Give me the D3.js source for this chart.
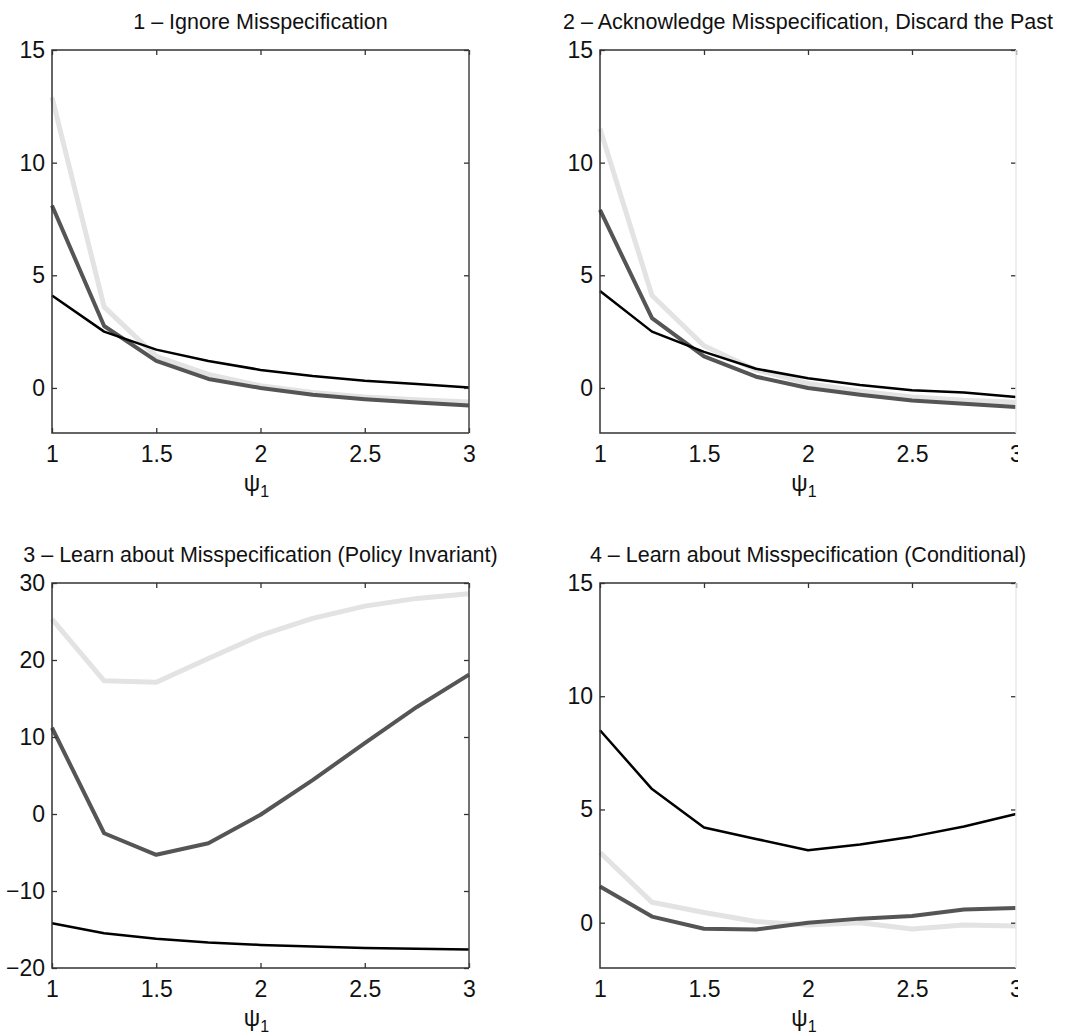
<!DOCTYPE html>
<html>
<head>
<meta charset="utf-8">
<script src="https://cdn.jsdelivr.net/npm/d3@7"></script>
<style>
  body { margin: 0; background: #fff; }
  text { font-family: "Liberation Sans Narrow", "Arial Narrow", "Liberation Sans", sans-serif; fill: #111; }
</style>
</head>
<body>
<div id="container"></div>
<script>
/* DATA */
const psi = [1, 1.25, 1.5, 1.75, 2, 2.25, 2.5, 2.75, 3];
const xTicks = [1, 1.5, 2, 2.5, 3];

// panel 1 - ignore misspecification
const p1Light = [12.9, 3.6, 1.4, 0.6, 0.1, -0.2, -0.4, -0.52, -0.62];
const p1Dark  = [8.1, 2.75, 1.2, 0.4, 0.0, -0.3, -0.5, -0.65, -0.78];
const p1Black = [4.1, 2.5, 1.7, 1.2, 0.8, 0.53, 0.32, 0.17, 0.02];

// panel 2 - acknowledge misspecification, discard the past
const p2Light = [11.5, 4.1, 1.87, 0.8, 0.2, -0.15, -0.4, -0.55, -0.63];
const p2Dark  = [7.9, 3.1, 1.4, 0.5, 0.0, -0.3, -0.56, -0.7, -0.85];
const p2Black = [4.3, 2.5, 1.6, 0.85, 0.43, 0.13, -0.1, -0.2, -0.4];

// panel 3 - learn about misspecification (policy invariant)
const p3Light = [25.3, 17.3, 17.1, 20.2, 23.2, 25.4, 27.0, 28.0, 28.6];
const p3Dark  = [11.2, -2.5, -5.3, -3.8, -0.1, 4.4, 9.2, 13.9, 18.1];
const p3Black = [-14.2, -15.5, -16.2, -16.7, -17.0, -17.2, -17.4, -17.5, -17.6];

// panel 4 - learn about misspecification (conditional)
const p4Light = [3.1, 0.9, 0.45, 0.05, -0.1, 0.0, -0.28, -0.1, -0.15];
const p4Dark  = [1.6, 0.27, -0.27, -0.3, 0.0, 0.18, 0.3, 0.58, 0.65];
const p4Black = [8.5, 5.9, 4.2, 3.7, 3.2, 3.45, 3.8, 4.25, 4.8];

const titles = [
  "1 \u2013 Ignore Misspecification",
  "2 \u2013 Acknowledge Misspecification, Discard the Past",
  "3 \u2013 Learn about Misspecification (Policy Invariant)",
  "4 \u2013 Learn about Misspecification (Conditional)"
];
const yDomains = [[-2, 15], [-2, 15], [-20, 30], [-2, 15]];
const yTickSets = [[0, 5, 10, 15], [0, 5, 10, 15], [-20, -10, 0, 10, 20, 30], [0, 5, 10, 15]];

/* LAYOUT */
const width = 1065, height = 1035;
const cols = [{left: 52, right: 469}, {left: 600, right: 1016}];
const rows = [{top: 50, bottom: 433}, {top: 583, bottom: 968}];
const cropX = 1018; // original picture is cut off on the right

const series = [
  {key: "light", color: "#e3e3e3", w: 5},
  {key: "dark", color: "#555555", w: 4},
  {key: "black", color: "#000000", w: 2.5}
];

const panels = [
  {light: p1Light, dark: p1Dark, black: p1Black},
  {light: p2Light, dark: p2Dark, black: p2Black},
  {light: p3Light, dark: p3Dark, black: p3Black},
  {light: p4Light, dark: p4Dark, black: p4Black}
];

const svg = d3.select("#container")
  .append("svg")
  .attr("width", width)
  .attr("height", height);

svg.append("rect").attr("width", width).attr("height", height).attr("fill", "#fff");

svg.append("clipPath").attr("id", "crop")
  .append("rect").attr("x", 0).attr("y", 0).attr("width", cropX).attr("height", height);

const fmt = d => d < 0 ? "\u2212" + Math.abs(d) : String(d);

panels.forEach((p, i) => {
  const c = cols[i % 2], r = rows[Math.floor(i / 2)];
  const isRight = i % 2 === 1;

  const xScale = d3.scaleLinear().domain([1, 3]).range([c.left, c.right]);
  const yScale = d3.scaleLinear().domain(yDomains[i]).range([r.bottom, r.top]);

  const g = svg.append("g");

  // lines
  const line = d3.line().x((d, j) => xScale(psi[j])).y(d => yScale(d));
  series.forEach(s => {
    g.append("path")
      .datum(p[s.key])
      .attr("d", line)
      .attr("fill", "none")
      .attr("stroke", s.color)
      .attr("stroke-width", s.w)
      .attr("stroke-linejoin", "round");
  });

  // axes with inward ticks
  const axisStyle = sel => {
    sel.select(".domain").remove();
    sel.selectAll(".tick line").attr("stroke", "#333").attr("stroke-width", 1.3);
    sel.selectAll("text").style("font-size", "23px").attr("fill", "#111");
  };

  const xAxis = g.append("g")
    .attr("transform", `translate(0,${r.bottom})`)
    .call(d3.axisBottom(xScale).tickValues(xTicks).tickFormat(d => String(d))
      .tickSize(-5).tickSizeOuter(0).tickPadding(13))
    .call(axisStyle);
  if (isRight) xAxis.attr("clip-path", "url(#crop)");

  g.append("g")
    .attr("transform", `translate(0,${r.top})`)
    .call(d3.axisTop(xScale).tickValues(xTicks).tickFormat("").tickSize(-5).tickSizeOuter(0))
    .call(axisStyle);

  g.append("g")
    .attr("transform", `translate(${c.left},0)`)
    .call(d3.axisLeft(yScale).tickValues(yTickSets[i]).tickFormat(fmt)
      .tickSize(-5).tickSizeOuter(0).tickPadding(7))
    .call(axisStyle);

  g.append("g")
    .attr("transform", `translate(${c.right},0)`)
    .call(d3.axisRight(yScale).tickValues(yTickSets[i]).tickFormat("").tickSize(-5).tickSizeOuter(0))
    .call(axisStyle);

  // frame
  g.append("path")
    .attr("d", `M${c.right},${r.top}H${c.left}V${r.bottom}H${c.right}`)
    .attr("fill", "none").attr("stroke", "#333").attr("stroke-width", 1.5);
  g.append("line")
    .attr("x1", c.right).attr("x2", c.right).attr("y1", r.top).attr("y2", r.bottom)
    .attr("stroke", isRight ? "#e8e8e8" : "#444").attr("stroke-width", 1.5);

  // title
  g.append("text")
    .attr("x", (c.left + c.right) / 2)
    .attr("y", r.top - 21)
    .attr("text-anchor", "middle")
    .style("font-size", "21.5px")
    .text(titles[i]);

  // x label psi_1
  const xl = g.append("text")
    .attr("x", (c.left + c.right) / 2 - 4)
    .attr("y", r.bottom + 58)
    .attr("text-anchor", "middle")
    .style("font-size", "23px");
  xl.append("tspan").text("\u03c8");
  xl.append("tspan").attr("dy", 6).style("font-size", "16px").text("1");
});
</script>
</body>
</html>
